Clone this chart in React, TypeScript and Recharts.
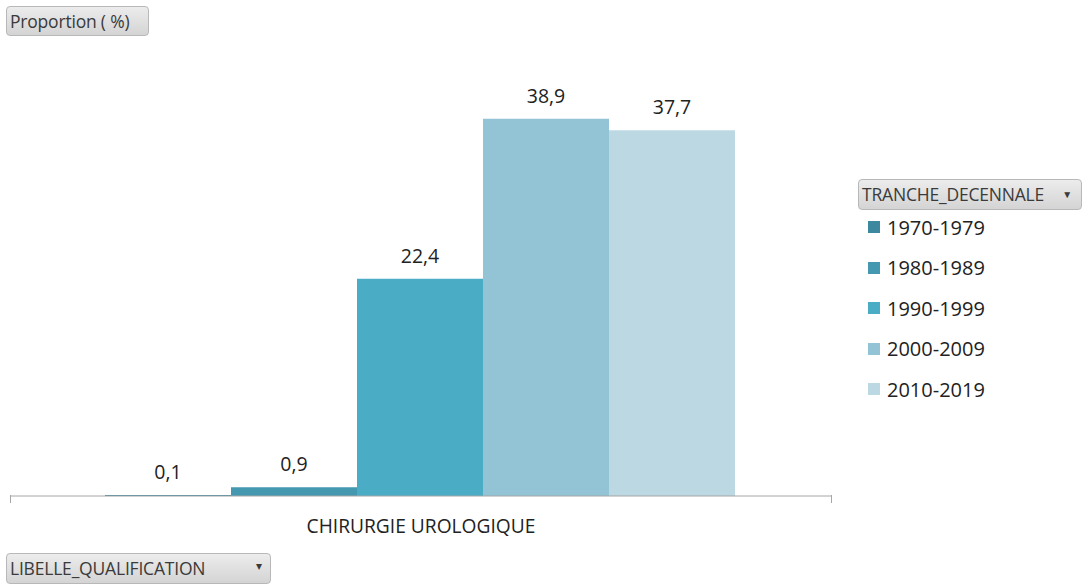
import React from 'react';
import { BarChart, Bar, XAxis, YAxis, LabelList } from 'recharts';

const categories = ['CHIRURGIE UROLOGIQUE'];
const seriesNames = ['1970-1979', '1980-1989', '1990-1999', '2000-2009', '2010-2019'];
const seriesValues = [[0.1], [0.9], [22.4], [38.9], [37.7]];
const seriesColors = ['#3C889E', '#4499B0', '#4BACC6', '#93C4D6', '#BCD8E3'];

const data = categories.map((c, i) => {
  const row: Record<string, string | number> = { cat: c };
  seriesNames.forEach((s, k) => {
    row[s] = seriesValues[k][i];
  });
  return row;
});

const FONT = '"Open Sans", "Noto Sans", sans-serif';

const btnStyle: React.CSSProperties = {
  position: 'absolute',
  boxSizing: 'border-box',
  background: 'linear-gradient(#ececec, #d4d4d4)',
  border: '1px solid #b8b8b8',
  borderRadius: 4,
  color: '#3a3a3a',
  fontFamily: FONT,
  fontSize: 17.5,
  lineHeight: '28px',
  paddingLeft: 3,
  whiteSpace: 'nowrap',
  letterSpacing: -0.2,
};

const fmt = (v: any) => String(v).replace('.', ',');

export default function App() {
  return (
    <div style={{ position: 'absolute', left: 0, top: 0, width: 1083, height: 584, background: '#fff', fontFamily: FONT }}>
      <BarChart
        width={1083}
        height={584}
        data={data}
        margin={{ top: 108, right: 251, bottom: 48, left: 10 }}
        barGap={0}
        barCategoryGap={95}
      >
        <XAxis
          dataKey="cat"
          axisLine={{ stroke: '#a6a6a6', strokeWidth: 1 }}
          tickLine={false}
          height={40}
          tick={{ fill: '#222', fontSize: 19.2, fontFamily: FONT, dy: 15 }}
        />
        <YAxis hide domain={[0, 40]} />
        {seriesNames.map((s, k) => (
          <Bar key={s} dataKey={s} fill={seriesColors[k]} isAnimationActive={false}>
            <LabelList
              dataKey={s}
              position="top"
              offset={16}
              formatter={fmt}
              style={{ fill: '#222', fontSize: 19.5, fontFamily: FONT }}
            />
          </Bar>
        ))}
      </BarChart>
      <div style={{ position: 'absolute', left: 10, top: 495, width: 1, height: 8, background: '#a6a6a6' }} />
      <div style={{ position: 'absolute', left: 831, top: 495, width: 1, height: 8, background: '#a6a6a6' }} />
      <div style={{ ...btnStyle, left: 6, top: 6, width: 143, height: 30 }}>Proportion ( %)</div>
      <div style={{ ...btnStyle, left: 6, top: 553, width: 265, height: 31 }}>
        LIBELLE_QUALIFICATION
        <span style={{ position: 'absolute', right: 8, top: -2, fontSize: 12 }}>▾</span>
      </div>
      <div style={{ position: 'absolute', left: 858, top: 179, width: 225, fontFamily: FONT }}>
        <div style={{ ...btnStyle, position: 'relative', width: 224, height: 31 }}>
          TRANCHE_DECENNALE
          <span style={{ position: 'absolute', right: 9, top: 0, fontSize: 10 }}>▼</span>
        </div>
        <div style={{ marginTop: -3 }}>
          {seriesNames.map((s, k) => (
            <div key={s} style={{ display: 'flex', alignItems: 'center', height: 40.5, marginLeft: 10 }}>
              <div style={{ width: 12, height: 12, background: seriesColors[k], marginRight: 7 }} />
              <span style={{ fontSize: 20, color: '#222' }}>{s}</span>
            </div>
          ))}
        </div>
      </div>
    </div>
  );
}
